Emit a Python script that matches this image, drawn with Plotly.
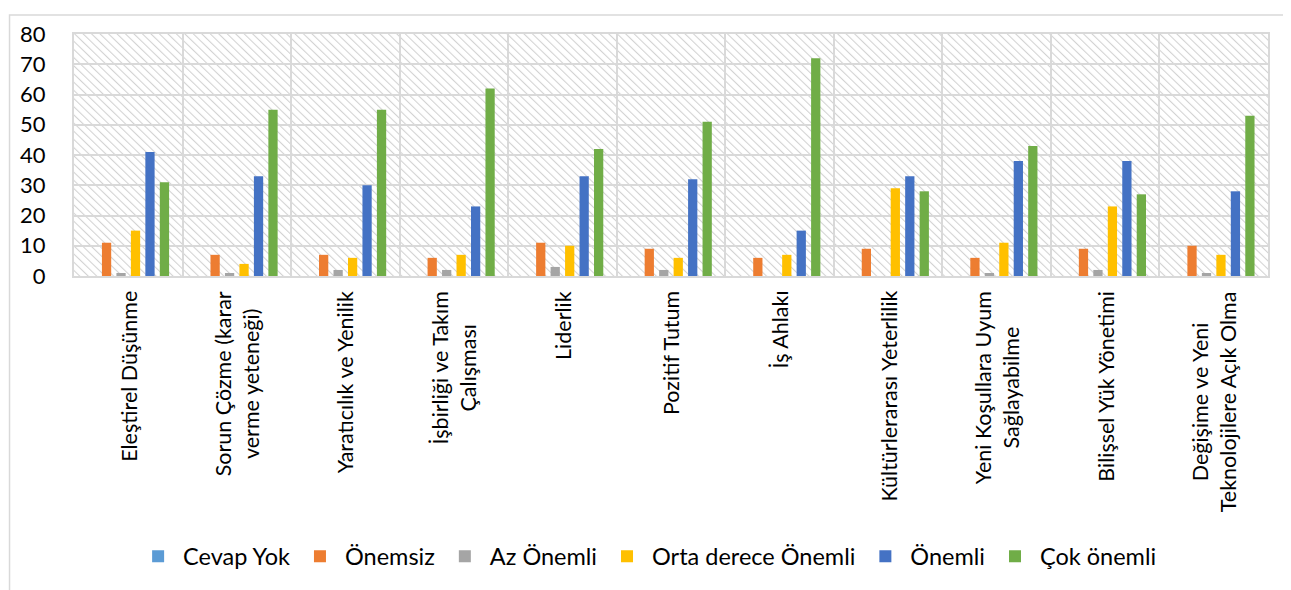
import urllib.parse
import plotly.graph_objects as go

categories = [
    "Eleştirel Düşünme",
    "Sorun Çözme (karar<br>verme yeteneği)",
    "Yaratıcılık ve Yenilik",
    "İşbirliği ve Takım<br>Çalışması",
    "Liderlik",
    "Pozitif Tutum",
    "İş Ahlakı",
    "Kültürlerarası Yeterlilik",
    "Yeni Koşullara Uyum<br>Sağlayabilme",
    "Bilişsel Yük Yönetimi",
    "Değişime ve Yeni<br>Teknolojilere Açık Olma",
]

cevap_yok = [0, 0, 0, 0, 0, 0, 0, 0, 0, 0, 0]
onemsiz = [11, 7, 7, 6, 11, 9, 6, 9, 6, 9, 10]
az_onemli = [1, 1, 2, 2, 3, 2, 0, 0, 1, 2, 1]
orta = [15, 4, 6, 7, 10, 6, 7, 29, 11, 23, 7]
onemli = [41, 33, 30, 23, 33, 32, 15, 33, 38, 38, 28]
cok_onemli = [31, 55, 55, 62, 42, 51, 72, 28, 43, 27, 53]

series = [
    ("Cevap Yok", cevap_yok, "#5B9BD5"),
    ("Önemsiz", onemsiz, "#ED7D31"),
    ("Az Önemli", az_onemli, "#A5A5A5"),
    ("Orta derece Önemli", orta, "#FFC000"),
    ("Önemli", onemli, "#4472C4"),
    ("Çok önemli", cok_onemli, "#70AD47"),
]

FONT = "Lato"

fig = go.Figure()
for name, vals, color in series:
    fig.add_trace(go.Bar(x=categories, y=vals, name=name, marker_color=color,
                         marker_line_width=0))

# category labels as rotated annotations so two-line labels are centred
for cat in categories:
    fig.add_annotation(x=cat, xref="x", y=0, yref="paper", yshift=-13,
                       text=cat, textangle=-90, showarrow=False,
                       xanchor="center", yanchor="top", align="center",
                       font=dict(size=21.5, family=FONT, color="black"))

# hatched plot background (Excel style)
hatch_svg = (
    "<svg xmlns='http://www.w3.org/2000/svg' width='1195' height='251'>"
    "<defs><pattern id='p' width='6' height='6' patternUnits='userSpaceOnUse' "
    "patternTransform='rotate(-45)'>"
    "<line x1='0' y1='0' x2='0' y2='6' stroke='#d2d2d2' stroke-width='2.2'/>"
    "</pattern></defs>"
    "<rect width='100%' height='100%' fill='url(#p)'/></svg>"
)
hatch_src = "data:image/svg+xml;charset=utf-8," + urllib.parse.quote(hatch_svg)

fig.update_layout(
    width=1275, height=582,
    margin=dict(l=65, r=15, t=20, b=311),
    paper_bgcolor="white", plot_bgcolor="white",
    font=dict(family=FONT, size=20, color="black"),
    barmode="group", bargap=0.2, bargroupgap=0.36,
    images=[dict(source=hatch_src, xref="paper", yref="paper", x=0, y=1,
                 sizex=1, sizey=1, sizing="stretch", layer="below",
                 xanchor="left", yanchor="top")],
    legend=dict(orientation="h", x=0.48, xanchor="center", y=-1.159,
                yanchor="middle", itemwidth=40, font=dict(size=23.5, family=FONT)),
    shapes=[dict(type="rect", xref="paper", yref="paper",
                 x0=-0.054, x1=1.2, y0=-2.0, y1=1.078,
                 line=dict(color="#d9d9d9", width=1.5), fillcolor="rgba(0,0,0,0)")],
)

fig.update_yaxes(range=[0, 80], dtick=10, showgrid=True, gridcolor="#d9d9d9",
                 gridwidth=2, zeroline=False, showline=True, linecolor="#d9d9d9",
                 linewidth=2, mirror=True, ticks="", ticklabelstandoff=22,
                 tickfont=dict(size=22, family=FONT))
fig.update_xaxes(tickson="boundaries", showgrid=True, gridcolor="#d9d9d9",
                 gridwidth=2, showline=True, linecolor="#d9d9d9", linewidth=2,
                 mirror=True, ticks="", showticklabels=False)

fig.write_html("out.html")
